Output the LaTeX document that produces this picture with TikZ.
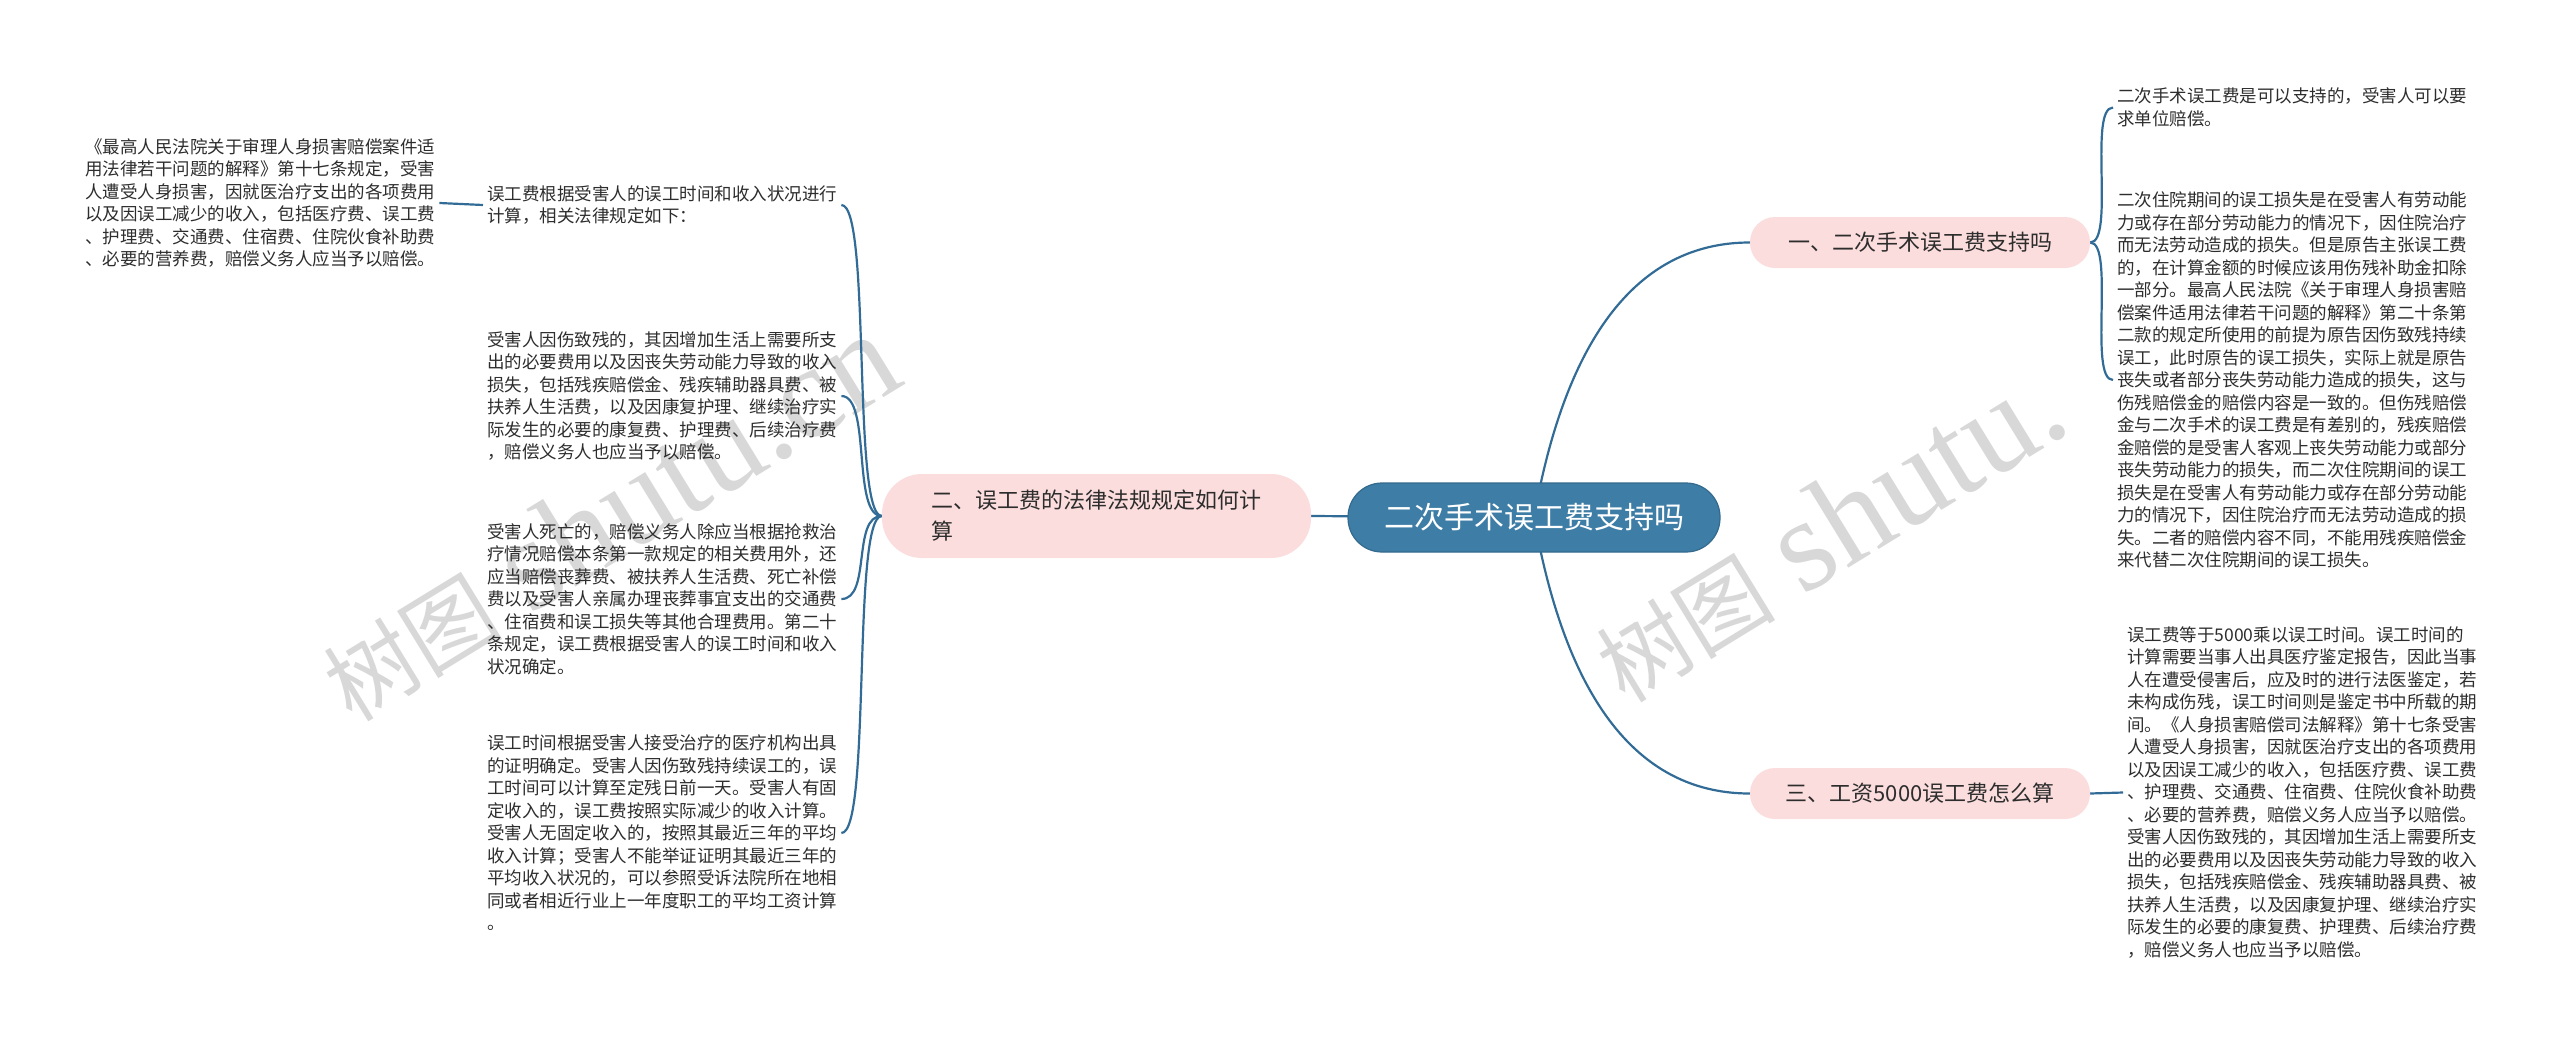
\documentclass[tikz,border=0pt]{standalone}
\usepackage{fontspec}
\setmainfont{Noto Sans CJK SC}
\newfontfamily\wmfont{Liberation Serif}
\usetikzlibrary{positioning,backgrounds}
\definecolor{rootblue}{RGB}{61,125,166}
\definecolor{linkblue}{RGB}{50,108,150}
\definecolor{branchpink}{RGB}{252,221,221}
\definecolor{textgray}{RGB}{45,45,45}
\definecolor{wmgray}{RGB}{216,216,216}

\begin{document}
\begin{tikzpicture}[x=1pt,y=-1pt,
  rootbox/.style={draw=rootblue!85!black,line width=1.2pt,fill=rootblue,rounded corners=34pt,
                  minimum width=372pt,minimum height=69pt,text=white,
                  font=\fontsize{30}{36}\selectfont},
  branch/.style={fill=branchpink,rounded corners=25pt,minimum width=340pt,minimum height=51pt,
                 text=textgray,align=left,font=\fontsize{22}{31}\selectfont},
  leaf/.style={anchor=west,inner xsep=4pt,inner ysep=2pt,text=textgray,align=left,
               font=\fontsize{17.5}{22.5}\selectfont},
  link/.style={draw=linkblue,line width=2.2pt},
  watermark/.style={text=wmgray,rotate=31.5,anchor=base west,inner sep=0pt}
]
  \useasboundingbox (0,0) rectangle (2560,1047);

  % Root and branches
  \node[rootbox] (root) at (1534,517.5) {二次手术误工费支持吗};
  \node[branch] (b1) at (1920,242.5) {一、二次手术误工费支持吗};
  \node[branch,minimum width=429pt,minimum height=84pt,rounded corners=40pt] (b2) at (1096.5,516)
    {二、误工费的法律法规规定如何计\\算};
  \node[branch] (b3) at (1920,793.5) {三、工资5000误工费怎么算};

  % Left leaves
  \node[leaf] (l0) at (81,203) {《最高人民法院关于审理人身损害赔偿案件适\\
    用法律若干问题的解释》第十七条规定，受害\\
    人遭受人身损害，因就医治疗支出的各项费用\\
    以及因误工减少的收入，包括医疗费、误工费\\
    、护理费、交通费、住宿费、住院伙食补助费\\
    、必要的营养费，赔偿义务人应当予以赔偿。};
  \node[leaf] (l1) at (483,205) {误工费根据受害人的误工时间和收入状况进行\\
    计算，相关法律规定如下：};
  \node[leaf] (l2) at (483,396) {受害人因伤致残的，其因增加生活上需要所支\\
    出的必要费用以及因丧失劳动能力导致的收入\\
    损失，包括残疾赔偿金、残疾辅助器具费、被\\
    扶养人生活费，以及因康复护理、继续治疗实\\
    际发生的必要的康复费、护理费、后续治疗费\\
    ，赔偿义务人也应当予以赔偿。};
  \node[leaf] (l3) at (483,599) {受害人死亡的，赔偿义务人除应当根据抢救治\\
    疗情况赔偿本条第一款规定的相关费用外，还\\
    应当赔偿丧葬费、被扶养人生活费、死亡补偿\\
    费以及受害人亲属办理丧葬事宜支出的交通费\\
    、住宿费和误工损失等其他合理费用。第二十\\
    条规定，误工费根据受害人的误工时间和收入\\
    状况确定。};
  \node[leaf] (l4) at (483,833) {误工时间根据受害人接受治疗的医疗机构出具\\
    的证明确定。受害人因伤致残持续误工的，误\\
    工时间可以计算至定残日前一天。受害人有固\\
    定收入的，误工费按照实际减少的收入计算。\\
    受害人无固定收入的，按照其最近三年的平均\\
    收入计算；受害人不能举证证明其最近三年的\\
    平均收入状况的，可以参照受诉法院所在地相\\
    同或者相近行业上一年度职工的平均工资计算\\
    。};

  % Right leaves
  \node[leaf] (r1) at (2113,107.5) {二次手术误工费是可以支持的，受害人可以要\\
    求单位赔偿。};
  \node[leaf] (r2) at (2113,380) {二次住院期间的误工损失是在受害人有劳动能\\
    力或存在部分劳动能力的情况下，因住院治疗\\
    而无法劳动造成的损失。但是原告主张误工费\\
    的，在计算金额的时候应该用伤残补助金扣除\\
    一部分。最高人民法院《关于审理人身损害赔\\
    偿案件适用法律若干问题的解释》第二十条第\\
    二款的规定所使用的前提为原告因伤致残持续\\
    误工，此时原告的误工损失，实际上就是原告\\
    丧失或者部分丧失劳动能力造成的损失，这与\\
    伤残赔偿金的赔偿内容是一致的。但伤残赔偿\\
    金与二次手术的误工费是有差别的，残疾赔偿\\
    金赔偿的是受害人客观上丧失劳动能力或部分\\
    丧失劳动能力的损失，而二次住院期间的误工\\
    损失是在受害人有劳动能力或存在部分劳动能\\
    力的情况下，因住院治疗而无法劳动造成的损\\
    失。二者的赔偿内容不同，不能用残疾赔偿金\\
    来代替二次住院期间的误工损失。};
  \node[leaf] (r3) at (2123,792.5) {误工费等于5000乘以误工时间。误工时间的\\
    计算需要当事人出具医疗鉴定报告，因此当事\\
    人在遭受侵害后，应及时的进行法医鉴定，若\\
    未构成伤残，误工时间则是鉴定书中所载的期\\
    间。《人身损害赔偿司法解释》第十七条受害\\
    人遭受人身损害，因就医治疗支出的各项费用\\
    以及因误工减少的收入，包括医疗费、误工费\\
    、护理费、交通费、住宿费、住院伙食补助费\\
    、必要的营养费，赔偿义务人应当予以赔偿。\\
    受害人因伤致残的，其因增加生活上需要所支\\
    出的必要费用以及因丧失劳动能力导致的收入\\
    损失，包括残疾赔偿金、残疾辅助器具费、被\\
    扶养人生活费，以及因康复护理、继续治疗实\\
    际发生的必要的康复费、护理费、后续治疗费\\
    ，赔偿义务人也应当予以赔偿。};

  \begin{scope}[on background layer]
    % Watermarks
    \node[watermark] (wm1) at (352,724)
      {{\fontsize{90}{90}\selectfont 树图}\hspace{28pt}{\wmfont\fontsize{132}{132}\selectfont shutu.cn}};
    \node[watermark] (wm2) at (1625,705)
      {{\fontsize{90}{90}\selectfont 树图}\hspace{28pt}{\wmfont\fontsize{132}{132}\selectfont shutu.}};
    % Links
    \draw[link] (root.center) -- (b2.east);
    \draw[link] (root.center) to[out=80,in=180] (b1.west);
    \draw[link] (root.center) to[out=280,in=180] (b3.west);
    \foreach \leaf in {l1,l2,l3,l4}
      \draw[link] (b2.west) .. controls +(-30,0) and +(30,0) .. (\leaf.east);
    \draw[link] (l1.west) -- (l0.east);
    \foreach \leaf in {r1,r2}
      \draw[link] (b1.east) .. controls +(25,0) and +(-25,0) .. (\leaf.west);
    \draw[link] (b3.east) -- (r3.west);
  \end{scope}
\end{tikzpicture}
\end{document}
